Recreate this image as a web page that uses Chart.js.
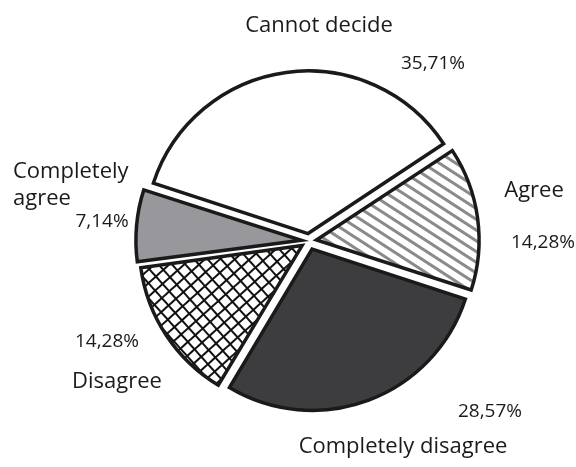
<!DOCTYPE html>
<html><head><meta charset="utf-8">
<script src="https://cdn.jsdelivr.net/npm/chart.js@4/dist/chart.umd.min.js"></script>
<style>html,body{margin:0;padding:0;background:#fff}#wrap{width:576px;height:467px}</style>
</head><body><div id="wrap"><canvas id="c" width="576" height="467"></canvas></div>
<script>
const categories = ['Cannot decide', 'Agree', 'Completely disagree', 'Disagree', 'Completely agree'];
const values = [35.71, 14.28, 28.57, 14.28, 7.14];
const valueLabels = ['35,71%', '14,28%', '28,57%', '14,28%', '7,14%'];

// label layout (text placement, relative to the pie centre)
const nameLayout = [
  {lines: ['Cannot decide'], dx: 10, dy: -209, align: 'center'},
  {lines: ['Agree'], dx: 225, dy: -44, align: 'center'},
  {lines: ['Completely disagree'], dx: 94, dy: 212, align: 'center'},
  {lines: ['Disagree'], dx: -192, dy: 147, align: 'center'},
  {lines: ['Completely', 'agree'], dx: -296, dy: -63, align: 'left'}
];
const pctLayout = [
  {dx: 124, dy: -172}, {dx: 234, dy: 7}, {dx: 181, dy: 176}, {dx: -202, dy: 106}, {dx: -207, dy: -14}
];

function stripePattern(ctx) {
  const t = document.createElement('canvas'); t.width = 9; t.height = 9;
  const g = t.getContext('2d');
  g.fillStyle = '#fff'; g.fillRect(0, 0, 9, 9);
  g.fillStyle = '#8a8a8a'; g.fillRect(0, 0, 9, 3);
  const p = ctx.createPattern(t, 'repeat');
  p.setTransform(new DOMMatrix().rotate(33));
  return p;
}
function crossPattern(ctx) {
  const t = document.createElement('canvas'); t.width = 10; t.height = 10;
  const g = t.getContext('2d');
  g.fillStyle = '#fff'; g.fillRect(0, 0, 10, 10);
  g.fillStyle = '#111'; g.fillRect(0, 0, 10, 2); g.fillRect(0, 0, 2, 10);
  const p = ctx.createPattern(t, 'repeat');
  p.setTransform(new DOMMatrix().rotate(48));
  return p;
}

const canvas = document.getElementById('c');
const ctx = canvas.getContext('2d');

const labelPlugin = {
  id: 'pieLabels',
  afterDraw(chart) {
    const meta = chart.getDatasetMeta(0);
    const cx = meta.data[0].x, cy = meta.data[0].y;
    const c = chart.ctx;
    c.save();
    c.fillStyle = '#1a1a1a';
    c.textBaseline = 'alphabetic';
    nameLayout.forEach((l) => {
      c.font = '22px "Open Sans"';
      c.textAlign = l.align;
      l.lines.forEach((s, k) => c.fillText(s, cx + l.dx, cy + l.dy + k * 27));
    });
    pctLayout.forEach((l, i) => {
      c.font = '19px "Open Sans"';
      c.textAlign = 'center';
      c.fillText(valueLabels[i], cx + l.dx, cy + l.dy);
    });
    c.restore();
  }
};

new Chart(ctx, {
  type: 'pie',
  data: {
    labels: categories,
    datasets: [{
      data: values,
      backgroundColor: ['#ffffff', stripePattern(ctx), '#3d3d3f', crossPattern(ctx), '#98989c'],
      borderColor: '#1a1a1a',
      borderWidth: 3.5,
      borderJoinStyle: 'miter',
      offset: [30, 30, 35, 33, 31],
      clip: false
    }]
  },
  options: {
    responsive: false,
    animation: false,
    rotation: -72,
    radius: 161,
    layout: {padding: {left: 99, right: 57, top: 67, bottom: 52}},
    plugins: {legend: {display: false}, tooltip: {enabled: false}}
  },
  plugins: [labelPlugin]
});
</script>
</body></html>
